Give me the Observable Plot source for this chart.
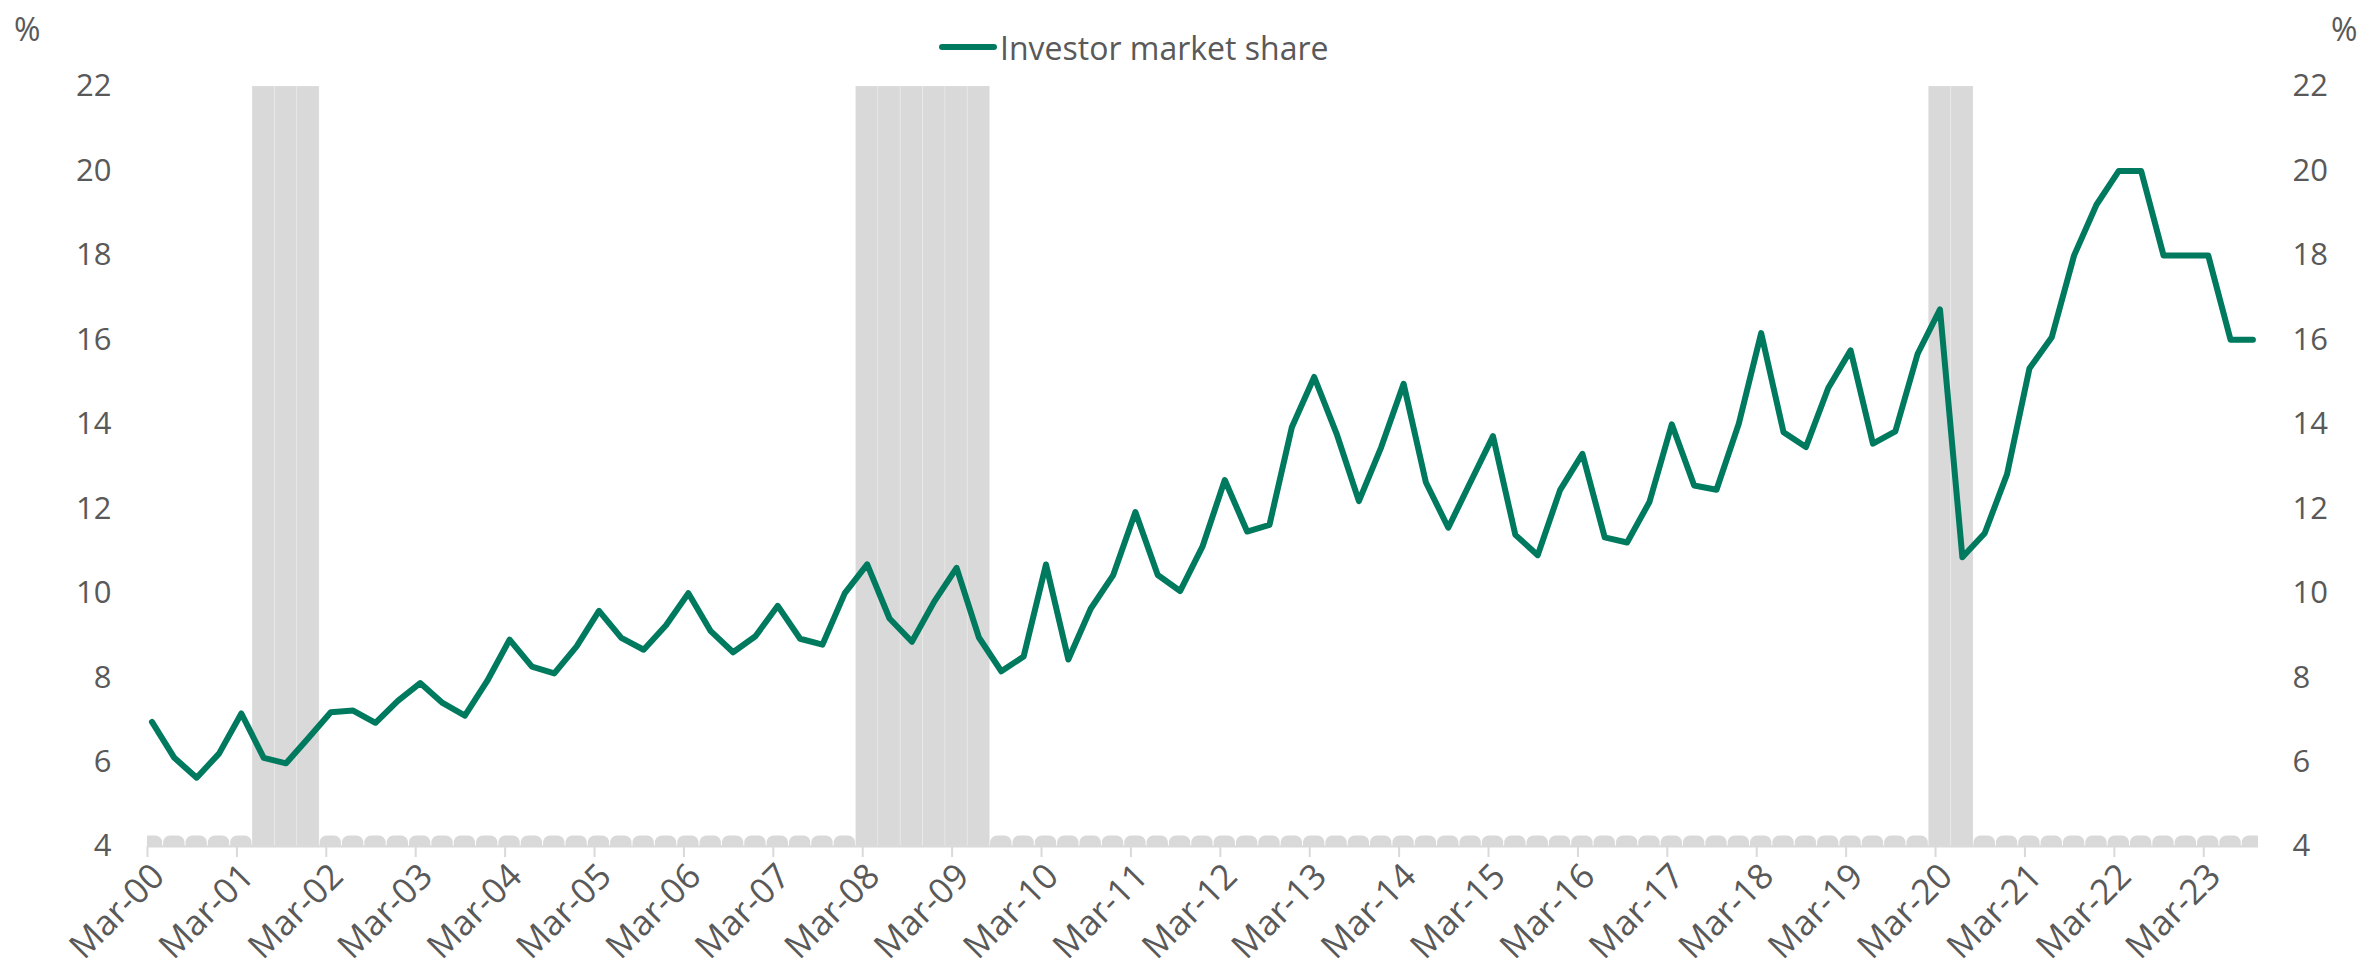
<!DOCTYPE html>
<html>
<head>
<meta charset="utf-8">
<script src="https://cdn.jsdelivr.net/npm/d3@7"></script>
<script src="https://cdn.jsdelivr.net/npm/@observablehq/plot@0.6"></script>
<style>
  body { margin: 0; background: #ffffff; font-family: "Open Sans", sans-serif; color: #595959; }
  #wrap { width: 2374px; position: relative; }
  #header { position: relative; height: 66px; }
  .pct { position: absolute; top: 13px; font-size: 32px; line-height: 1; }
  #legend { position: absolute; left: 939px; top: 30px; height: 34px; display: flex; align-items: center; font-size: 32px; }
  #legend .sw { width: 58px; height: 6px; border-radius: 3px; background: #007A5E; margin-right: 3px; }
</style>
</head>
<body>
<div id="wrap">
  <div id="header">
    <div class="pct" style="left:14px;">%</div>
    <div class="pct" style="left:2331px;">%</div>
    <div id="legend"><div class="sw"></div><span>Investor market share</span></div>
  </div>
  <div id="chart"></div>
</div>
<script>
// Quarterly categories, Mar-00 .. Sep-23
const months = ["Mar", "Jun", "Sep", "Dec"];
const quarters = [];
for (let y = 0; y <= 23; y++) for (const m of months) quarters.push(m + "-" + String(y).padStart(2, "0"));
quarters.splice(95);

// Investor market share (%)
const investorShare = [
  6.95, 6.1, 5.63, 6.2, 7.15, 6.1, 5.97, 6.57, 7.18, 7.22,
  6.93, 7.45, 7.87, 7.4, 7.1, 7.92, 8.9, 8.26, 8.1, 8.74,
  9.58, 8.94, 8.66, 9.24, 10.0, 9.1, 8.6, 8.98, 9.7, 8.92,
  8.78, 10.0, 10.68, 9.4, 8.85, 9.8, 10.6, 8.95, 8.15, 8.5,
  10.68, 8.43, 9.63, 10.42, 11.92, 10.43, 10.05, 11.1, 12.68, 11.46,
  11.62, 13.93, 15.12, 13.78, 12.18, 13.46, 14.96, 12.62, 11.55, 12.64,
  13.72, 11.38, 10.9, 12.44, 13.3, 11.32, 11.2, 12.16, 14.0, 12.55,
  12.45, 14.02, 16.16, 13.81, 13.46, 14.86, 15.75, 13.54, 13.83, 15.67,
  16.72, 10.85, 11.42, 12.82, 15.32, 16.06, 18.0, 19.2, 20.0, 20.0,
  18.0, 18.0, 18.0, 16.0, 16.0
];

// Recession quarters (shaded columns)
const recessionQuarters = ["Jun-01", "Sep-01", "Dec-01",
  "Mar-08", "Jun-08", "Sep-08", "Dec-08", "Mar-09", "Jun-09",
  "Mar-20", "Jun-20"];
const recessionHigh = 22;
const recessionLow = 4.25;

// Axis tick labels
const xTickLabels = ["Mar-00", "Mar-01", "Mar-02", "Mar-03", "Mar-04", "Mar-05", "Mar-06", "Mar-07",
  "Mar-08", "Mar-09", "Mar-10", "Mar-11", "Mar-12", "Mar-13", "Mar-14", "Mar-15",
  "Mar-16", "Mar-17", "Mar-18", "Mar-19", "Mar-20", "Mar-21", "Mar-22", "Mar-23"];
const yTicks = [4, 6, 8, 10, 12, 14, 16, 18, 20, 22];

const lineData = investorShare.map((v, i) => ({i, q: quarters[i], v}));
const barData = quarters.map((q, i) => ({i, q, rec: recessionQuarters.includes(q)}))
  .map(d => ({...d, v: d.rec ? recessionHigh : recessionLow}));
const tickIndex = xTickLabels.map(l => quarters.indexOf(l) - 0.2);

const GREY = "#595959";
const chart = Plot.plot({
  width: 2374,
  height: 911,
  marginLeft: 147,
  marginRight: 116,
  marginTop: 20,
  marginBottom: 131,
  x: {type: "linear", domain: [-0.2, 94.25]},
  y: {domain: [4, 22]},
  style: {fontFamily: "'Open Sans', sans-serif", fontSize: "31px", color: GREY, background: "white", overflow: "visible"},
  marks: [
    Plot.rect(barData.filter(d => d.rec), {
      x1: d => d.i - 0.5, x2: d => d.i + 0.5, y1: 4, y2: "v",
      fill: "#d9d9d9", stroke: "white", strokeOpacity: 0.2, strokeWidth: 1, clip: true
    }),
    Plot.rect(barData.filter(d => !d.rec), {
      x1: d => d.i - 0.5, x2: d => d.i + 0.5, y1: 3.6, y2: "v",
      fill: "#d9d9d9", rx: 7, insetLeft: 0.5, insetRight: 0.5, clip: true
    }),
    Plot.ruleY([4], {stroke: "#d9d9d9", strokeWidth: 2}),
    Plot.axisX({ticks: tickIndex, tickSize: 11, stroke: "#d9d9d9", strokeWidth: 2, fill: "none", label: null, tickFormat: () => ""}),
    Plot.axisX({ticks: tickIndex, tickSize: 0, tickPadding: 24, dx: 11, tickRotate: -45, fill: GREY, fontSize: 35, label: null,
      tickFormat: d => xTickLabels[Math.round((d + 0.2) / 4)]}),
    Plot.axisY({anchor: "left", ticks: yTicks, tickSize: 0, tickPadding: 36, label: null, fill: GREY}),
    Plot.axisY({anchor: "right", ticks: yTicks, tickSize: 0, tickPadding: 34, label: null, fill: GREY}),
    Plot.line(lineData, {x: "i", y: "v", stroke: "#007A5E", strokeWidth: 6, strokeLinejoin: "round", strokeLinecap: "round"})
  ]
});
document.getElementById("chart").appendChild(chart);
</script>
</body>
</html>
